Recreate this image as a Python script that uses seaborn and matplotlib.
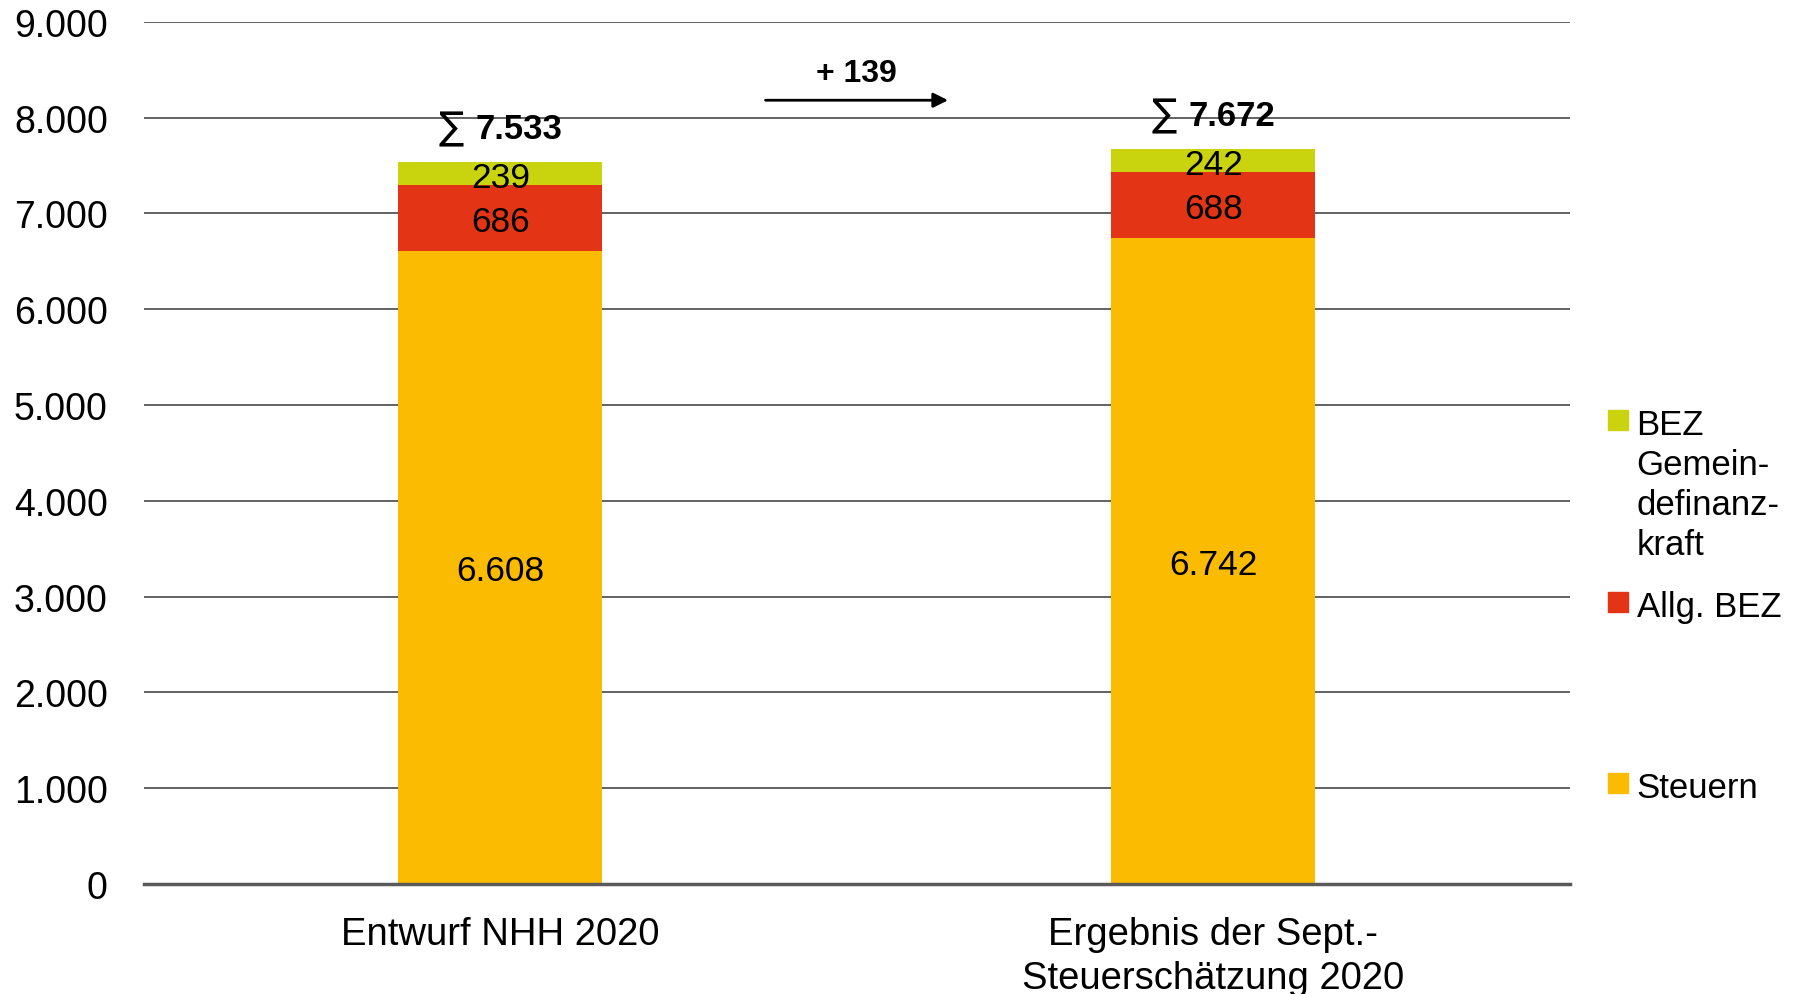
import matplotlib
matplotlib.use("Agg")
import matplotlib.pyplot as plt
import seaborn as sns
import numpy as np
import pandas as pd
from matplotlib.lines import Line2D

# ---------------- data ----------------
categories = ["Entwurf NHH 2020", "Ergebnis der Sept.-\nSteuerschätzung 2020"]
steuern = [6608, 6742]
allg_bez = [686, 688]
bez_gemeinde = [239, 242]
series_labels = ["BEZ\nGemein-\ndefinanz-\nkraft", "Allg. BEZ", "Steuern"]
ytick_values = [0, 1000, 2000, 3000, 4000, 5000, 6000, 7000, 8000, 9000]

# ---------------- style ----------------
col_green = "#C9D30E"
col_red = "#E33516"
col_orange = "#FABB00"

sns.set_theme(style="white")
plt.rcParams["font.family"] = ["Liberation Sans", "DejaVu Sans"]
plt.rcParams["text.color"] = "black"
plt.rcParams["xtick.color"] = "black"
plt.rcParams["ytick.color"] = "black"
plt.rcParams["xtick.labelcolor"] = "black"
plt.rcParams["ytick.labelcolor"] = "black"


def de(v):
    return f"{v:,}".replace(",", ".")


df = pd.DataFrame({
    "cat": categories,
    "steuern": steuern,
    "allg": allg_bez,
    "bez": bez_gemeinde,
})
df["lvl1"] = df["steuern"]
df["lvl2"] = df["steuern"] + df["allg"]
df["total"] = df["lvl2"] + df["bez"]

fig = plt.figure(figsize=(17.97, 9.95), dpi=100)
ax = fig.add_axes([0.0801, 0.1106, 0.8735 - 0.0801, 0.977 - 0.1106])

bw = 0.286
sns.barplot(data=df, x="cat", y="total", color=col_green, width=bw, saturation=1,
            linewidth=0, ax=ax, zorder=2)
sns.barplot(data=df, x="cat", y="lvl2", color=col_red, width=bw, saturation=1,
            linewidth=0, ax=ax, zorder=3)
sns.barplot(data=df, x="cat", y="lvl1", color=col_orange, width=bw, saturation=1,
            linewidth=0, ax=ax, zorder=4)

ax.set_xlim(-0.5, 1.5)
ax.set_ylim(0, 9000)
ax.set_yticks(ytick_values)
ax.set_yticklabels([de(v) for v in ytick_values])
ax.set_xlabel("")
ax.set_ylabel("")
ax.tick_params(axis="y", length=0, pad=26, labelsize=27, labelcolor="black")
ax.tick_params(axis="x", length=0, pad=23, labelsize=27.5, labelcolor="black")
for t in ax.get_xticklabels():
    t.set_linespacing(1.3)

ax.yaxis.grid(True, color="#555555", linewidth=1.3)
ax.set_axisbelow(True)
for s in ["left", "right", "top"]:
    ax.spines[s].set_visible(False)
ax.spines["bottom"].set_color("#5a5a5a")
ax.spines["bottom"].set_linewidth(2.5)
ax.spines["bottom"].set_zorder(6)

# segment labels
for i, row in df.iterrows():
    ax.text(i, row["steuern"] / 2, de(row["steuern"]), ha="center",
            va="center_baseline", fontsize=25.5, color="black", zorder=7)
    ax.text(i, row["steuern"] + row["allg"] / 2, de(row["allg"]), ha="center",
            va="center_baseline", fontsize=25.5, color="black", zorder=7)
    ax.text(i, row["lvl2"] + row["bez"] / 2, de(row["bez"]), ha="center",
            va="center_baseline", fontsize=25.5, color="black", zorder=7)
    # sum labels
    ytot = row["total"] + 350
    ax.annotate("∑", xy=(i, ytot), xytext=(-26, 0), textcoords="offset points",
                ha="right", va="center", fontsize=27, color="black",
                family=["DejaVu Sans"], zorder=7)
    ax.annotate(de(row["total"]), xy=(i, ytot), xytext=(-18, 0),
                textcoords="offset points", ha="left", va="center",
                fontsize=25, fontweight="bold", color="black", zorder=7)

# difference arrow
diff = int(df["total"].iloc[1] - df["total"].iloc[0])
ax.annotate("", xy=(0.628, 8182), xytext=(0.372, 8182),
            arrowprops=dict(arrowstyle="-|>", color="black", lw=2,
                            mutation_scale=22, shrinkA=0, shrinkB=0), zorder=7)
ax.text(0.5, 8469, f"+ {diff}", ha="center", va="center", fontsize=23,
        fontweight="bold", color="black", zorder=7)

# legends (three separate blocks)
leg_colors = [col_green, col_red, col_orange]
leg_y = [435, 617, 798]
for lab, c, yp in zip(series_labels, leg_colors, leg_y):
    h = Line2D([], [], marker="s", linestyle="none", markersize=14,
               markerfacecolor=c, markeredgecolor=c)
    leg = fig.legend(handles=[h], labels=[lab], loc="upper left",
                     bbox_to_anchor=(1606 / 1797, 1 - (yp - 26) / 995),
                     frameon=False, fontsize=25, handlelength=0.7,
                     handletextpad=0.18, borderpad=0, borderaxespad=0)
    for t in leg.get_texts():
        t.set_color("black")
        t.set_linespacing(1.27)
    try:
        for col in leg._legend_handle_box.get_children():
            for hp in col.get_children():
                hp.align = "top"
    except Exception:
        pass

fig.savefig("out.png", dpi=100, facecolor="white")
